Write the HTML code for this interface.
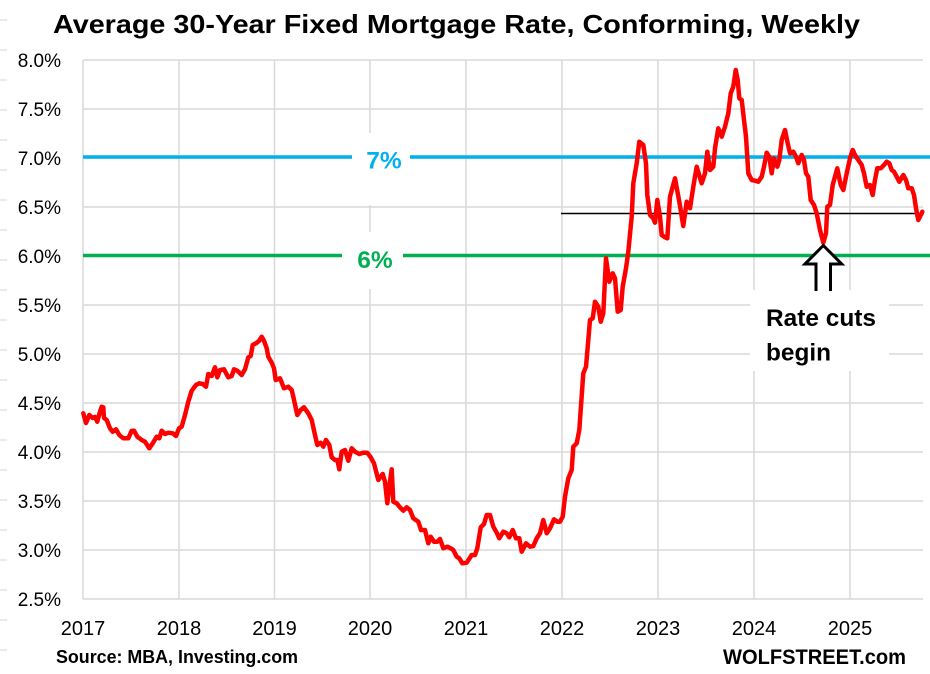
<!DOCTYPE html>
<html>
<head>
<meta charset="utf-8">
<style>
  html,body{margin:0;padding:0;background:#fff;}
  svg{display:block;}
  text{font-family:"Liberation Sans",Arial,sans-serif;}
</style>
</head>
<body>
<svg width="930" height="674" viewBox="0 0 930 674" xmlns="http://www.w3.org/2000/svg">
  <rect width="930" height="674" fill="#fff"/>

  <!-- left-edge small marks -->
  <g stroke="#d4d4d4" stroke-width="1">
    <line x1="0" y1="20" x2="7" y2="20"/><line x1="0" y1="50" x2="7" y2="50"/>
    <line x1="0" y1="80" x2="7" y2="80"/><line x1="0" y1="110" x2="7" y2="110"/>
    <line x1="0" y1="140" x2="7" y2="140"/><line x1="0" y1="170" x2="7" y2="170"/>
    <line x1="0" y1="200" x2="7" y2="200"/><line x1="0" y1="230" x2="7" y2="230"/>
    <line x1="0" y1="260" x2="7" y2="260"/><line x1="0" y1="290" x2="7" y2="290"/>
    <line x1="0" y1="320" x2="7" y2="320"/><line x1="0" y1="350" x2="7" y2="350"/>
    <line x1="0" y1="380" x2="7" y2="380"/><line x1="0" y1="410" x2="7" y2="410"/>
    <line x1="0" y1="440" x2="7" y2="440"/><line x1="0" y1="470" x2="7" y2="470"/>
    <line x1="0" y1="500" x2="7" y2="500"/><line x1="0" y1="530" x2="7" y2="530"/>
    <line x1="0" y1="560" x2="7" y2="560"/><line x1="0" y1="590" x2="7" y2="590"/>
    <line x1="0" y1="620" x2="7" y2="620"/><line x1="0" y1="650" x2="7" y2="650"/>
  </g>

  <!-- Title -->
  <text x="53" y="33" font-size="26" font-weight="bold" fill="#000" textLength="807" lengthAdjust="spacingAndGlyphs">Average 30-Year Fixed Mortgage Rate, Conforming, Weekly</text>

  <!-- gridlines -->
  <g stroke="#d9d9d9" stroke-width="1.5">
    <line x1="83" y1="60" x2="923" y2="60"/>
    <line x1="83" y1="109" x2="923" y2="109"/>
    <line x1="83" y1="158" x2="923" y2="158"/>
    <line x1="83" y1="207" x2="923" y2="207"/>
    <line x1="83" y1="256" x2="923" y2="256"/>
    <line x1="83" y1="305" x2="923" y2="305"/>
    <line x1="83" y1="354" x2="923" y2="354"/>
    <line x1="83" y1="403" x2="923" y2="403"/>
    <line x1="83" y1="452" x2="923" y2="452"/>
    <line x1="83" y1="501" x2="923" y2="501"/>
    <line x1="83" y1="550" x2="923" y2="550"/>
    <line x1="83" y1="599" x2="923" y2="599"/>
    <line x1="83" y1="60" x2="83" y2="599"/>
    <line x1="179" y1="60" x2="179" y2="599"/>
    <line x1="274.5" y1="60" x2="274.5" y2="599"/>
    <line x1="370" y1="60" x2="370" y2="599"/>
    <line x1="466" y1="60" x2="466" y2="599"/>
    <line x1="562" y1="60" x2="562" y2="599"/>
    <line x1="658" y1="60" x2="658" y2="599"/>
    <line x1="754" y1="60" x2="754" y2="599"/>
    <line x1="850" y1="60" x2="850" y2="599"/>
  </g>

  <!-- Y labels -->
  <g font-size="19" fill="#000" text-anchor="end">
    <text x="61" y="67">8.0%</text>
    <text x="61" y="116">7.5%</text>
    <text x="61" y="165">7.0%</text>
    <text x="61" y="214">6.5%</text>
    <text x="61" y="263">6.0%</text>
    <text x="61" y="312">5.5%</text>
    <text x="61" y="361">5.0%</text>
    <text x="61" y="410">4.5%</text>
    <text x="61" y="459">4.0%</text>
    <text x="61" y="508">3.5%</text>
    <text x="61" y="557">3.0%</text>
    <text x="61" y="606">2.5%</text>
  </g>

  <!-- X labels -->
  <g font-size="20" fill="#000" text-anchor="middle">
    <text x="83" y="635">2017</text>
    <text x="179" y="635">2018</text>
    <text x="274.5" y="635">2019</text>
    <text x="370" y="635">2020</text>
    <text x="466" y="635">2021</text>
    <text x="562" y="635">2022</text>
    <text x="658" y="635">2023</text>
    <text x="754" y="635">2024</text>
    <text x="850" y="635">2025</text>
  </g>

  <!-- 7% and 6% lines -->
  <line x1="83" y1="157" x2="930" y2="157" stroke="#00B0F0" stroke-width="3.5"/>
  <line x1="83" y1="255.5" x2="930" y2="255.5" stroke="#00B050" stroke-width="3.5"/>

  <!-- label boxes -->
  <rect x="352" y="133" width="58" height="72" fill="#fff"/>
  <text x="384" y="168.5" font-size="24.5" font-weight="bold" fill="#00B0F0" text-anchor="middle">7%</text>
  <rect x="342" y="232" width="61" height="57" fill="#fff"/>
  <text x="375" y="268" font-size="24.5" font-weight="bold" fill="#00B050" text-anchor="middle">6%</text>

  <!-- black reference line -->
  <line x1="561" y1="213.5" x2="924" y2="213.5" stroke="#000" stroke-width="1.6"/>

  <!-- Red series -->
  <polyline fill="none" stroke="#FF0000" stroke-width="4.5" stroke-linejoin="round" stroke-linecap="round" points="
83.3,413.3 86,423 89.3,415 92.7,418 95,417 97.3,421.7 100,411.7 101.7,406.7 103.3,407.3 104,418 106.7,420 110,428.3 112.7,431.7 116,429.3 119.3,435 123.3,438.3 128.3,438.3 131.7,430.7 134,430.7 137.3,436.7 141.7,440 145,441.7 149.3,448.3 152.7,443.3 156.7,436.7 159.3,438.3 161.7,430.7 165,434 168.3,432.7 172.7,433.3 176,436 179,428.3 181.7,426.7 185,415 188.3,401.7 191.7,390.7 196,385 199.3,383.3 202.7,384 206,386.7 208.3,374 211.7,376 215,367.3 217.3,377.3 220,370 224,369.3 228.3,377.3 231.7,376 234,369.3 237.3,370.7 241.7,375 245,369.3 248.3,357.3 250.7,356 252.7,345 256,343.3 259.3,340.7 261.7,336.7 264,340.7 266.7,348.3 268.3,356.7 271.7,362.7 274,368.3 275.7,380 280,378.3 284,388.3 288.3,386.7 291.7,390 293.3,396.7 297.3,415 300.7,410 304,407.3 308.3,413.3 311.7,420 315,435 317.3,445 320.7,442.7 323.3,446.7 326,440 329.3,445 331.7,457.3 335,460 337.3,460 339.3,469.3 341.7,451.7 345,450 348.3,460.7 351.7,448.3 355,451.7 359.3,454 363.3,452.7 367.3,452.7 370.7,457.3 374,463.3
378.3,480 382.7,474 385,481.7 387.3,503.3 389.3,486.7 391.7,469.3 393.3,501.7 396.7,503.3 400,507.3 403.3,510.7 406.7,507.3 410,510 413.3,518.3 418.3,521.7 421,530 425,530 428.3,543.3 430.7,536.7 434,541.7 437.3,541.7 440,539 443.3,548.3 447.3,546.7 450.7,548.3 453.3,550 456.7,556.7 459.3,558.3 462.3,563.3 466.7,562.7 471.7,555 475,555 477.3,548.3 480.7,527.3 484,524 486.7,515 490,515 493.3,526.7 496.7,532.7 499.3,538.3 503.3,531.7 506.7,533.3 509.3,537.3 512.7,530 516,538.3 519.3,538.3 521.7,551.7 526,543.3 530,546.7 533.3,546 536.7,538.3 540,533.3 543.3,520 546.7,533.3 550,528.3 554,519.3 557.3,521.7 560,521.7 562.7,516.7 565,496.7 568.3,478.3 571.7,470 573.3,446.7 576.7,443.3 579.3,430
583.3,373.3 586,366.7 590,320 592.7,318.3 595,301.7 598.3,306.7 600.7,321.7 603.3,313.3 606,258.3 609.3,281.7 612.7,273.3 615,278.3 617.7,311.7 620.7,310 622.7,286.7 626,268.3 628.3,251.7 631.7,216.7 633.3,183.3 636.7,163.3 639.3,141.7 643.3,145 646,163.3 647.3,195 650,215 653.3,218.3 655,222.7 657.3,200 660,216.7 661.7,235 665,237.3 667.3,238.3 670,196.7 675,178.3 679.3,201.7 683.3,226 686.7,201.7
690,208.3 693.3,186.7 696.7,166.7 701.7,183.3 705,173.3 707.3,151.7 710,170 713.3,166.7 715,148.3 718.3,128.3 721.7,136.7 725,126.7 728.3,113.3 730.7,93.3 733.3,86.7 735.7,70 737.7,80 739.3,98.3 741.7,100 744,120 746,136.7 748.3,173.3 751.7,180 755,180.7 758.3,181.7 761.7,176.7 764,166.7 766.7,152.7 769.3,156.7 771.7,173.3 774,158.3 777.3,166.7 779.3,160 781.7,140 785,130 787.7,143.3 790,153.3 793.3,151.7 796,156.7 798.3,163.3 801.7,155 804,160 806,173.3 808.3,176.7 810.7,200 814,205 816.7,213.3 820,230 823.3,242.7 826,233.3 827.3,206.7 830,205 832.7,185 837.3,168.3 840.7,185 843.3,190 846.7,173.3 850,158.3 852.7,150 855,155 858.3,160 861.7,165 864,173.3 866.7,186.7 870,185 872.7,195 875,180 877.3,168.3 880.7,168.3 884,165 886.7,161.7 889.3,163.3 891.7,170 894,171.7 896.7,176.7 899.3,181.7 903.3,175 906,180 908.3,188.3 911.7,188.3 914,195 916,208.3 918.3,220 920,216.7 922.3,211.7"/>

  <!-- Rate cuts box -->
  <rect x="750" y="290" width="139" height="81" fill="#fff"/>
  <text x="766" y="326" font-size="24.5" font-weight="bold" fill="#000" textLength="110" lengthAdjust="spacingAndGlyphs">Rate cuts</text>
  <text x="766" y="360.5" font-size="24.5" font-weight="bold" fill="#000" textLength="65" lengthAdjust="spacingAndGlyphs">begin</text>

  <!-- Arrow -->
  <path d="M816,291 L816,264 L805,264 L823.3,245.5 L841.7,264 L830.5,264 L830.5,291" fill="#fff" stroke="#000" stroke-width="3" stroke-linejoin="miter"/>

  <!-- footer -->
  <text x="56" y="663" font-size="18" font-weight="bold" fill="#000" textLength="242" lengthAdjust="spacingAndGlyphs">Source: MBA, Investing.com</text>
  <text x="723" y="664" font-size="21" font-weight="bold" fill="#000" textLength="183" lengthAdjust="spacingAndGlyphs">WOLFSTREET.com</text>
</svg>
</body>
</html>
